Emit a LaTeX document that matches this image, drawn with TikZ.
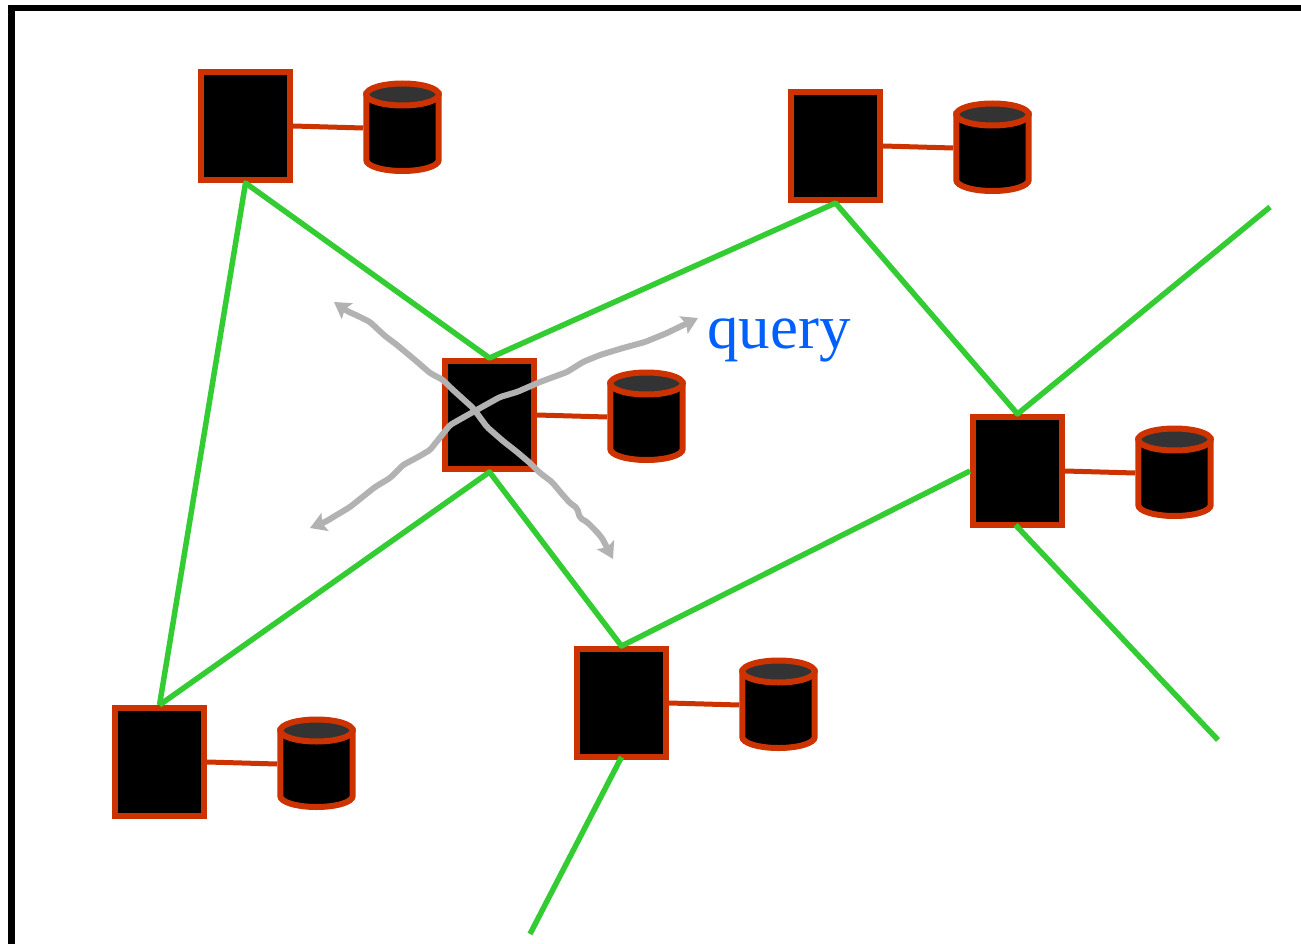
\documentclass[tikz,border=0pt]{standalone}
\usepackage{fontspec}
\setmainfont{Liberation Serif}
\usetikzlibrary{arrows.meta}
\definecolor{nodered}{HTML}{CC3300}
\definecolor{linkgreen}{HTML}{33CC33}
\definecolor{querygray}{HTML}{B2B2B2}
\definecolor{querytext}{HTML}{0060FF}
\definecolor{dbtop}{HTML}{333333}
\tikzset{
  peerbox/.style={rectangle,draw=nodered,fill=black,line width=6pt,minimum width=89pt,minimum height=108pt,inner sep=0pt},
  dbanchor/.style={rectangle,draw=none,minimum width=78.5pt,minimum height=94pt,inner sep=0pt,outer sep=0pt},
  dblink/.style={draw=nodered,line width=5pt},
  overlay link/.style={draw=linkgreen,line width=5.5pt,line join=round},
  querypath/.style={draw=querygray,line width=6pt,line join=round,rounded corners=2pt,{Stealth[length=16pt,width=19pt,inset=3pt]}-{Stealth[length=16pt,width=19pt,inset=3pt]}},
}
\newcommand{\peerunit}[3]{%
  \node[peerbox] (p#1) at (#2,#3) {};
  \node[dbanchor] (d#1) at (#2+157,#3+2) {};
  \begin{scope}[shift={(#2+157,#3)}]
    \path[draw=nodered,fill=black,line width=6pt] (-36.2,-31.5) -- (-36.2,34) arc[x radius=36.2,y radius=11,start angle=180,end angle=0,y=1pt] -- (36.2,-31.5) -- cycle;
    \path[draw=nodered,fill=dbtop,line width=6pt] (0,-31.5) ellipse[x radius=36.2,y radius=11];
  \end{scope}
  \draw[dblink] (p#1.east) -- (d#1.west);
}
\begin{document}
\begin{tikzpicture}[x=1pt,y=-1pt]
\useasboundingbox (0,0) rectangle (1301,944);
\fill[white] (0,0) rectangle (1301,944);
\coordinate (frameA) at (11.5,944);
\coordinate (frameB) at (11.5,8);
\coordinate (frameC) at (1301,8);
\draw[black,line width=6.5pt,line join=miter] (frameA) -- (frameB) -- (frameC);
\peerunit{a}{245.5}{126}
\peerunit{b}{835.5}{146}
\peerunit{c}{489.5}{415}
\peerunit{d}{1017.5}{471}
\peerunit{e}{621.5}{703}
\peerunit{f}{159.5}{762}
\coordinate (freeb) at (1270,207);
\coordinate (freed) at (1218,740);
\coordinate (freee) at (530,934);
\draw[overlay link] (pf.north) -- (pa.south) -- (pc.north) -- (pb.south) -- (pd.north) -- (freeb);
\draw[overlay link] (pf.north) -- (pc.south) -- (pe.north) -- (pd.west);
\draw[overlay link] ([xshift=-2pt,yshift=3pt]pd.south) -- (freed);
\draw[overlay link] ([yshift=3pt]pe.south) -- (freee);
\draw[querypath] (334,302) -- (347,311) -- (358,316) -- (370,322) -- (385,336) -- (397,345) -- (415,360) -- (430,373) -- (443,380) -- (452,389) -- (473,408) -- (487,427) -- (503,441) -- (517,452) -- (530,463) -- (540,473) -- (552,482) -- (562,494) -- (570,503) -- (577,508) -- (580,518) -- (587,522) -- (596,531) -- (602,538) -- (613,559);
\draw[querypath] (310,528) -- (325,522) -- (350,507) -- (375,487) -- (390,478) -- (403,465) -- (418,457) -- (430,450) -- (450,425) -- (473,412) -- (500,397) -- (517,392) -- (540,382) -- (567,372) -- (583,362) -- (600,355) -- (623,348) -- (645,342) -- (667,333) -- (698,318);
\node[text=querytext,font=\fontsize{63}{70}\selectfont,anchor=base west,inner sep=0pt] (q) at (707,348) {query};
\end{tikzpicture}
\end{document}
